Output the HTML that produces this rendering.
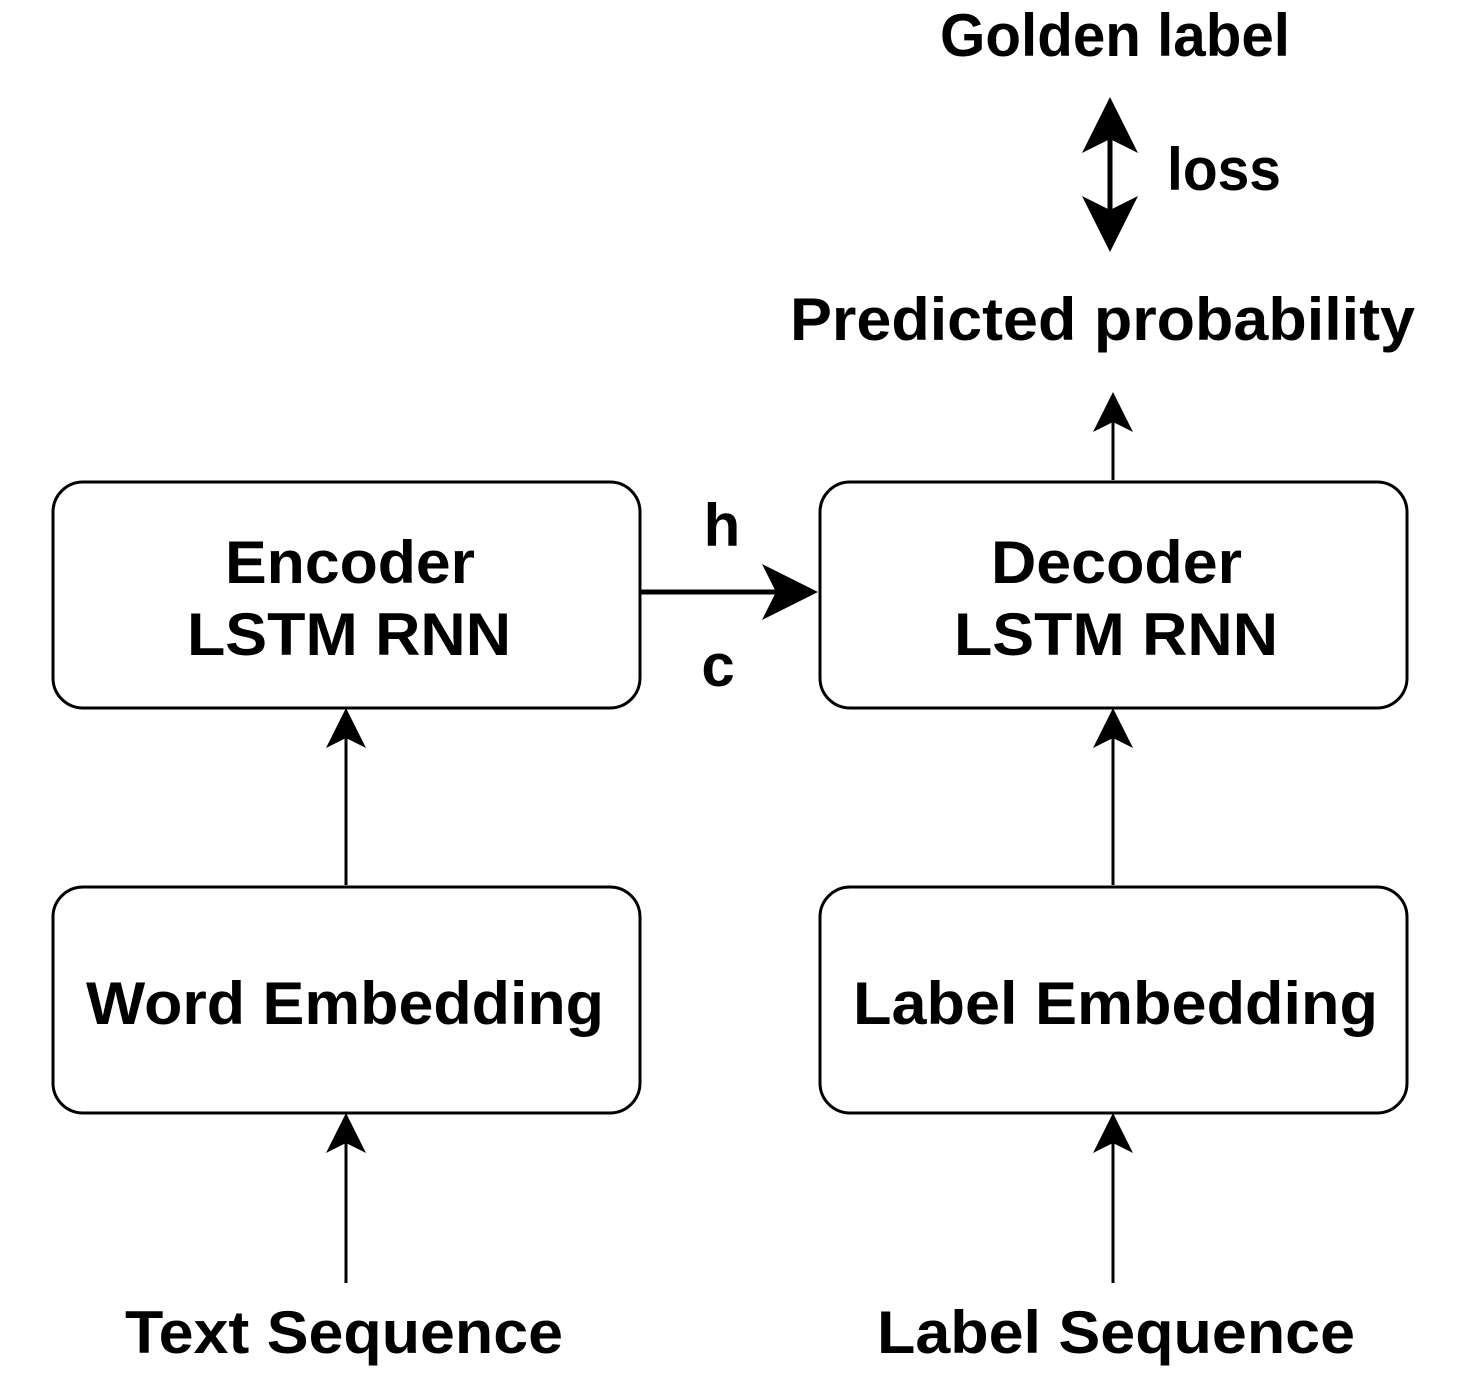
<!DOCTYPE html>
<html><head><meta charset="utf-8"><style>html,body{margin:0;padding:0;background:#fff}</style></head>
<body>
<svg width="1458" height="1382" viewBox="0 0 1458 1382" xmlns="http://www.w3.org/2000/svg" font-family="Liberation Sans, Arial, sans-serif" font-weight="bold" font-size="60" fill="#000">
<g fill="none" stroke="#000" stroke-width="3">
<rect x="53" y="482" width="587" height="226" rx="30"/>
<rect x="820" y="482" width="587" height="226" rx="30"/>
<rect x="53" y="887" width="587" height="226" rx="30"/>
<rect x="820" y="887" width="587" height="226" rx="30"/>
<line x1="346" y1="885" x2="346" y2="730"/>
<line x1="346" y1="1283" x2="346" y2="1135"/>
<line x1="1113" y1="885" x2="1113" y2="730"/>
<line x1="1113" y1="1283" x2="1113" y2="1135"/>
<line x1="1113" y1="480" x2="1113" y2="415"/>
<line x1="640" y1="592" x2="790" y2="592" stroke-width="5"/>
<line x1="1110" y1="130" x2="1110" y2="220" stroke-width="5"/>
</g>
<g fill="#000">
<path d="M346 708 L366 748 L346 738 L326 748 Z"/>
<path d="M346 1113 L366 1153 L346 1143 L326 1153 Z"/>
<path d="M1113 708 L1133 748 L1113 738 L1093 748 Z"/>
<path d="M1113 1113 L1133 1153 L1113 1143 L1093 1153 Z"/>
<path d="M1113 392 L1133 432 L1113 422 L1093 432 Z"/>
<path d="M818 592 L762 564 L776 592 L762 620 Z"/>
<path d="M1110 97 L1138 153 L1110 139 L1082 153 Z"/>
<path d="M1110 252 L1138 196 L1110 210 L1082 196 Z"/>
</g>
<g lengthAdjust="spacingAndGlyphs">
<text x="225" y="583" textLength="250" lengthAdjust="spacingAndGlyphs">Encoder</text>
<text x="187" y="655" textLength="324" lengthAdjust="spacingAndGlyphs">LSTM RNN</text>
<text x="991" y="583" textLength="251" lengthAdjust="spacingAndGlyphs">Decoder</text>
<text x="954" y="655" textLength="324" lengthAdjust="spacingAndGlyphs">LSTM RNN</text>
<text x="86" y="1024" textLength="518" lengthAdjust="spacingAndGlyphs">Word Embedding</text>
<text x="853" y="1024" textLength="525" lengthAdjust="spacingAndGlyphs">Label Embedding</text>
<text x="125" y="1353" textLength="438" lengthAdjust="spacingAndGlyphs">Text Sequence</text>
<text x="877" y="1353" textLength="478" lengthAdjust="spacingAndGlyphs">Label Sequence</text>
<text x="790" y="340" textLength="625" lengthAdjust="spacingAndGlyphs">Predicted probability</text>
<text x="940" y="56" textLength="350" lengthAdjust="spacingAndGlyphs">Golden label</text>
<text x="1167" y="190" textLength="114" lengthAdjust="spacingAndGlyphs">loss</text>
<text x="722" y="546" text-anchor="middle">h</text>
<text x="718" y="686" text-anchor="middle">c</text>
</g>
</svg>
</body></html>
